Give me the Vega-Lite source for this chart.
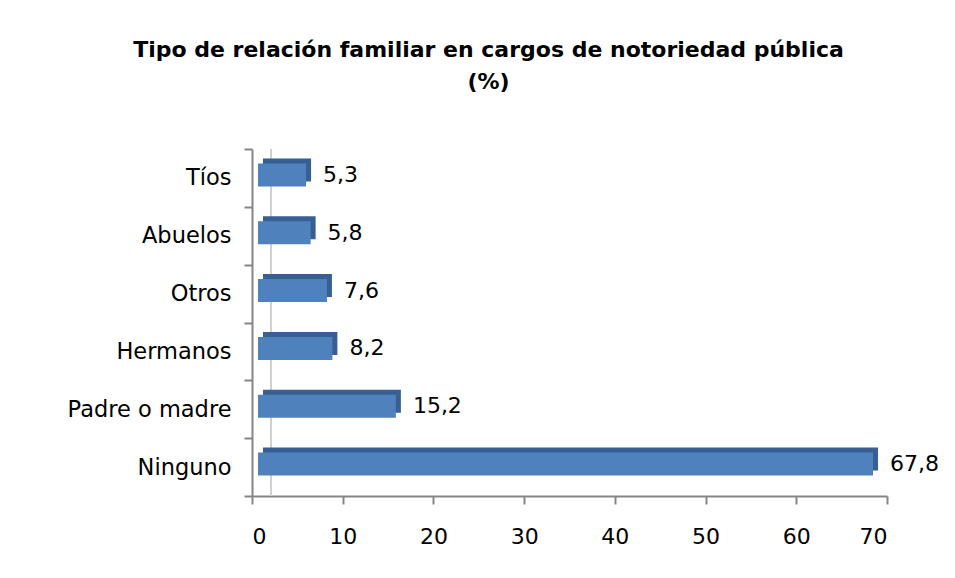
{
  "$schema": "https://vega.github.io/schema/vega-lite/v6.json",
  "autosize": "none",
  "width": 635,
  "height": 347,
  "padding": {"left": 252, "top": 149, "right": 68, "bottom": 82},
  "background": "white",
  "config": {
    "view": {"stroke": null},
    "font": "DejaVu Sans",
    "locale": {"number": {"decimal": ",", "thousands": ".", "grouping": [3], "currency": ["", " €"]}}
  },
  "title": {
    "text": ["Tipo de relación familiar en cargos de notoriedad pública", "(%)"],
    "font": "DejaVu Sans",
    "fontSize": 22,
    "fontWeight": "bold",
    "color": "black",
    "anchor": "middle",
    "dx": -81,
    "offset": 44,
    "lineHeight": 32
  },
  "data": {
    "values": [
      {"categoria": "Tíos", "valor": 5.3},
      {"categoria": "Abuelos", "valor": 5.8},
      {"categoria": "Otros", "valor": 7.6},
      {"categoria": "Hermanos", "valor": 8.2},
      {"categoria": "Padre o madre", "valor": 15.2},
      {"categoria": "Ninguno", "valor": 67.8}
    ]
  },
  "encoding": {
    "y": {
      "field": "categoria",
      "type": "nominal",
      "sort": null,
      "scale": {"paddingInner": 0, "paddingOuter": 0},
      "axis": {
        "title": null,
        "domainColor": "#868686",
        "domainWidth": 2,
        "tickColor": "#868686",
        "tickWidth": 2,
        "tickSize": 8,
        "tickBand": "extent",
        "labelFontSize": 22.5,
        "labelColor": "black",
        "labelPadding": 13,
        "labelFont": "DejaVu Sans"
      }
    }
  },
  "layer": [
    {
      "mark": {"type": "rule", "color": "#d0d0d0", "strokeWidth": 1.5},
      "encoding": {"x": {"datum": 2.1, "type": "quantitative"}, "y": null}
    },
    {
      "mark": {"type": "bar", "color": "#385F94", "height": 23, "xOffset": 11, "yOffset": -8},
      "encoding": {
        "x": {
          "field": "valor",
          "type": "quantitative",
          "scale": {"domain": [0, 70], "nice": false},
          "axis": {
            "title": null,
            "values": [0, 10, 20, 30, 40, 50, 60, 70],
            "grid": false,
            "domainColor": "#868686",
            "domainWidth": 2,
            "tickColor": "#868686",
            "tickWidth": 2,
            "tickSize": 8,
            "labelFontSize": 22,
            "labelColor": "black",
            "labelPadding": 22,
            "labelFont": "DejaVu Sans"
          }
        }
      }
    },
    {
      "mark": {"type": "bar", "color": "#4F81BD", "height": 23, "yOffset": -3, "xOffset": 6},
      "encoding": {"x": {"field": "valor", "type": "quantitative"}}
    },
    {
      "mark": {"type": "text", "align": "left", "baseline": "middle", "dx": 23, "dy": -3, "fontSize": 22, "color": "black", "font": "DejaVu Sans"},
      "encoding": {
        "x": {"field": "valor", "type": "quantitative"},
        "text": {"field": "valor", "type": "quantitative", "format": ".1f"}
      }
    }
  ]
}
